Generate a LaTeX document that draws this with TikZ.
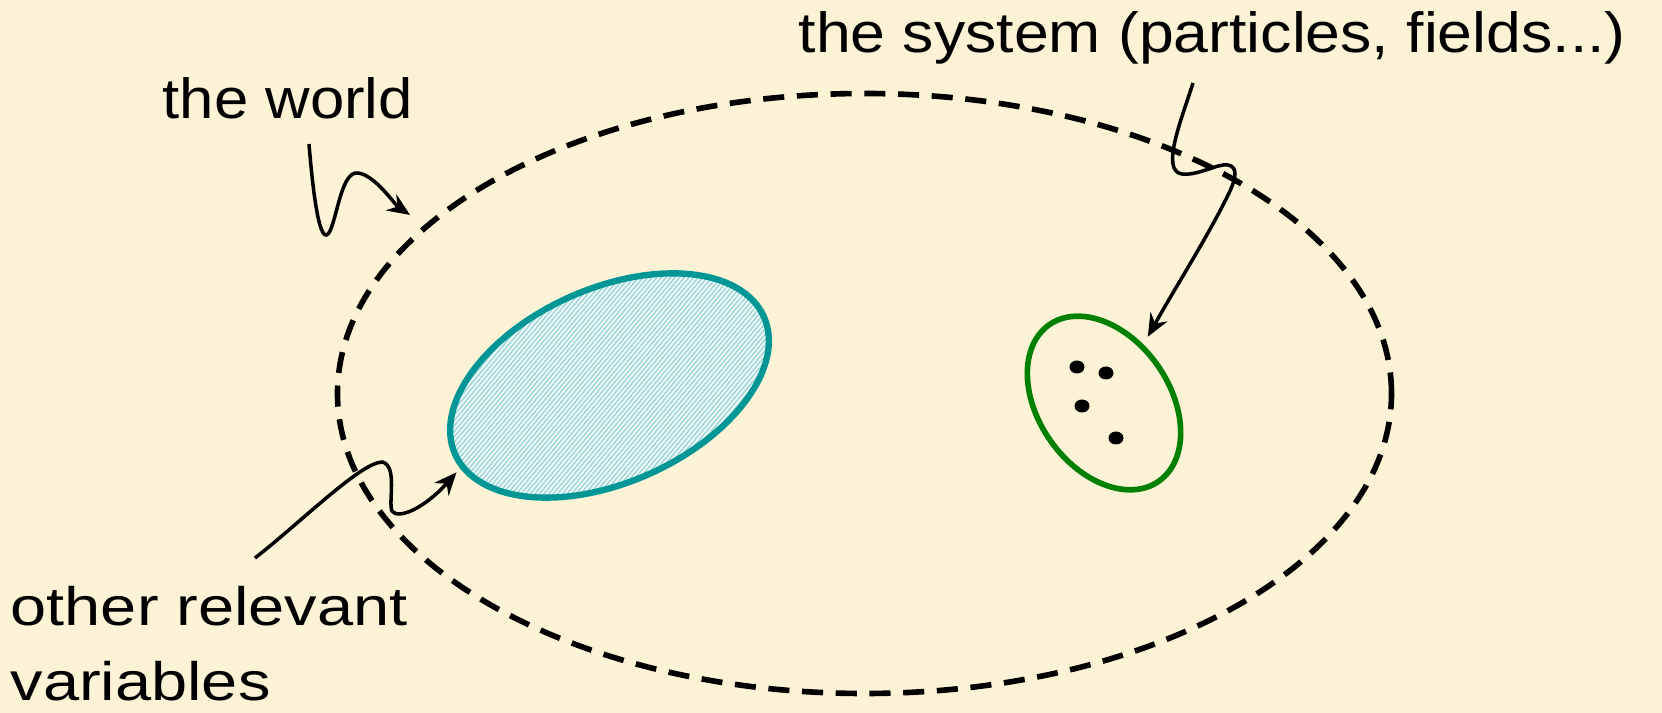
\documentclass[tikz,border=0pt]{standalone}
\usepackage{fontspec}
\setmainfont{Liberation Sans}
\usetikzlibrary{shapes.geometric,arrows.meta,patterns.meta}
\definecolor{paper}{RGB}{252,242,214}
\definecolor{tealline}{RGB}{0,150,150}
\definecolor{tealfill}{RGB}{165,218,220}
\definecolor{systemgreen}{RGB}{0,128,0}

\begin{document}
\begin{tikzpicture}[
  txt/.style={inner sep=0pt, anchor=base west, font=\fontsize{16.1}{19}\selectfont},
  smalltxt/.style={inner sep=0pt, anchor=base west, font=\fontsize{15.4}{21.3}\selectfont},
  worldline/.style={ellipse, draw=black, line width=1.6pt, dash pattern=on 6pt off 3.6pt, inner sep=0pt, minimum width=10.54cm, minimum height=6cm},
  region/.style={ellipse, preaction={fill=tealfill}, pattern={Lines[angle=50,distance=1pt,line width=0.4pt]}, pattern color=white, draw=tealline, line width=1.8pt, inner sep=0pt, minimum width=3.38cm, minimum height=1.94cm, rotate=24},
  sysline/.style={ellipse, draw=systemgreen, line width=1.6pt, inner sep=0pt, minimum width=1.91cm, minimum height=1.31cm, rotate=-55},
  particle/.style={fill=black},
  pointer/.style={line width=1pt, -{Stealth[length=6.5pt,width=5.5pt,inset=2.2pt]}}]

% Background
\fill[paper] (0,0) rectangle (16.62,7.13);
\useasboundingbox (0,0) rectangle (16.62,7.13);

% Ellipses
\node[worldline] (world) at (8.645,3.195) {};
\node[region] (region) at (6.095,3.275) {};
\node[sysline] (sys) at (11.04,3.10) {};

% Particles
\foreach \px/\py in {10.77/3.46, 11.06/3.40, 10.82/3.07, 11.16/2.75}
  \fill[particle] (\px,\py) ellipse (0.075 and 0.065);

% Labels
\node[txt] (worldlabel) at (1.62,5.94) {\scalebox{1.09}[1]{the world}};
\node[txt] (syslabel) at (7.98,6.60) {\scalebox{1.105}[1]{the system (particles, fields...)}};
\node[smalltxt] (otherlabel) at (0.10,0.87) {\scalebox{1.2}[1]{\begin{tabular}[t]{@{}l@{}}other relevant\\variables\end{tabular}}};

% Pointers
\coordinate (worldtail) at (3.09,5.69);
\coordinate (systail) at (11.93,6.30);
\coordinate (othertail) at (2.55,1.55);

\draw[pointer, shorten >=5pt] (worldtail) .. controls (3.13,5.2) and (3.20,4.62) .. (3.30,4.82)
  .. controls (3.38,5.0) and (3.42,5.42) .. (3.58,5.40)
  .. controls (3.75,5.38) and (3.95,5.08) .. (world.159);
\draw[pointer, shorten >=2.5pt] (systail) .. controls (11.82,5.95) and (11.60,5.42) .. (11.82,5.39)
  .. controls (11.98,5.37) and (12.18,5.50) .. (12.28,5.48)
  .. controls (12.38,5.46) and (12.36,5.35) .. (12.30,5.22)
  .. controls (12.10,4.80) and (11.75,4.25) .. (sys.111);
\draw[pointer, shorten >=1.5pt] (othertail) .. controls (3.0,1.9) and (3.6,2.5) .. (3.82,2.51)
  .. controls (3.98,2.48) and (3.88,2.1) .. (3.92,2.02)
  .. controls (3.98,1.93) and (4.25,2.05) .. (region.185);

\end{tikzpicture}
\end{document}
